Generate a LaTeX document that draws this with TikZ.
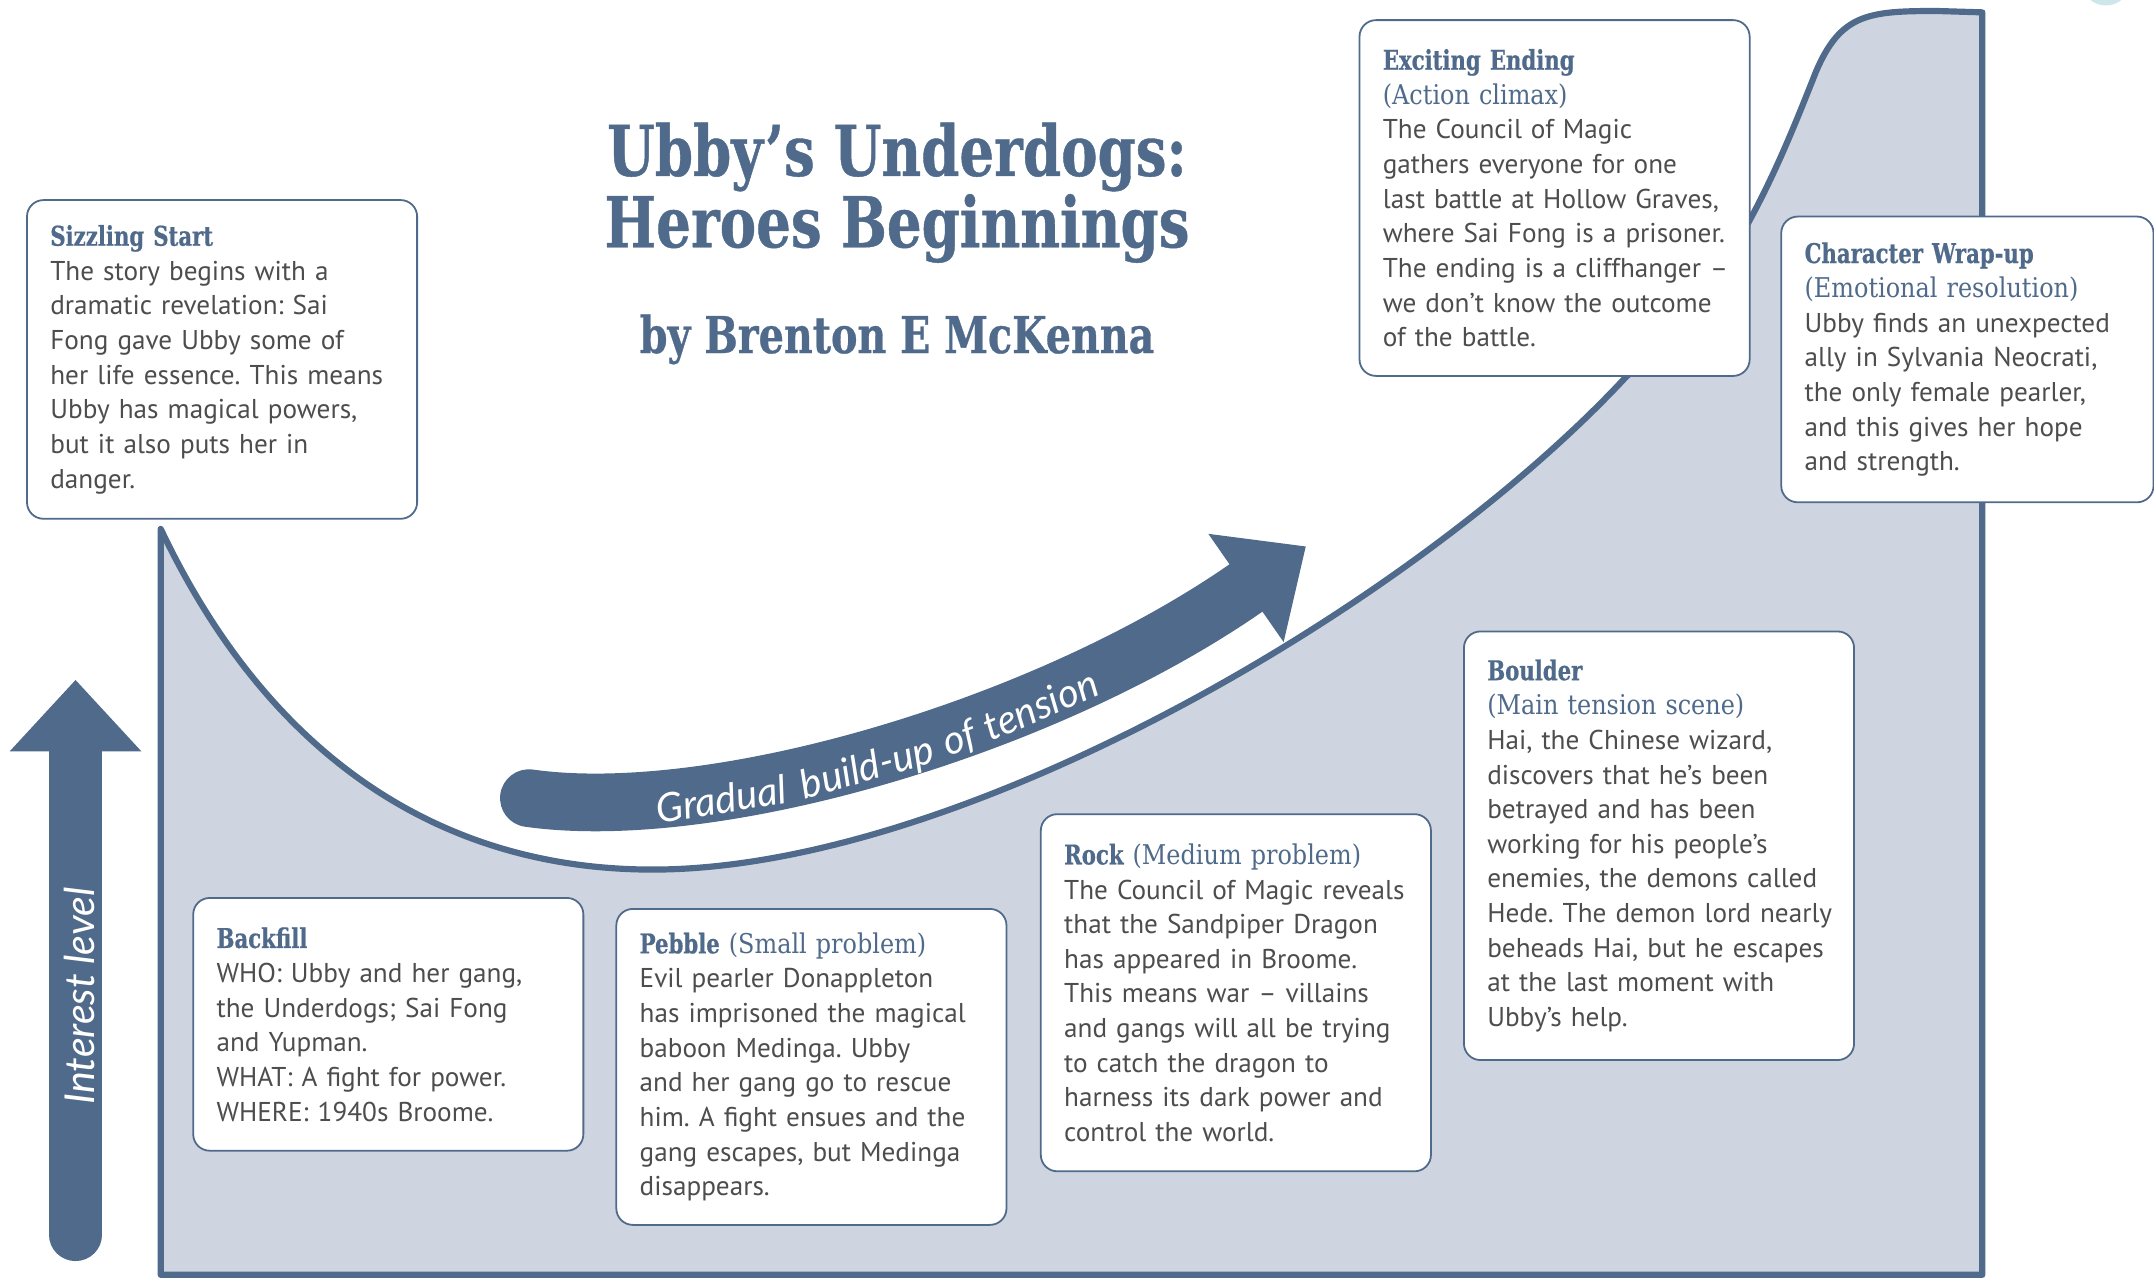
\documentclass[tikz,border=0pt]{standalone}
\usepackage{fontspec}
\setmainfont{PT Sans}
\newfontfamily\slabfont[FakeStretch=0.78,BoldFeatures={FakeBold=0.6}]{DejaVu Serif}
\newfontfamily\slabreg[FakeStretch=0.88]{DejaVu Serif}
\newfontfamily\handfont{Lato}
\frenchspacing
\definecolor{inkblue}{RGB}{79,106,138}
\definecolor{paleblue}{RGB}{207,213,224}
\definecolor{bodygrey}{RGB}{77,77,77}
\definecolor{cyanish}{RGB}{204,230,236}
\newcommand\BoxHead[1]{{\slabfont\bfseries\color{inkblue}#1}}
\newcommand\BoxSub[1]{{\slabreg\color{inkblue}#1}}

\begin{document}
\begin{tikzpicture}[x=1pt,y=-1pt,
  story/.style={draw=inkblue,line width=1.3pt,fill=white,rounded corners=12pt,
    anchor=north west,text width=266pt,inner xsep=9pt,inner ysep=0pt,align=left,
    execute at begin node={\leftskip=8pt},
    text=bodygrey,font=\fontsize{19.8}{25.2}\selectfont},
  titleline/.style={anchor=base,text=inkblue,inner sep=0pt},
  gradword/.style={sloped,anchor=base,inner sep=0pt,text=white,font=\handfont\itshape\fontsize{29}{30}\selectfont},
  curve/.style={draw=inkblue,fill=paleblue,line width=4.5pt,line join=round}]
\useasboundingbox (0,0) rectangle (1568,931);
\clip (0,0) rectangle (1568,931);
\fill[cyanish] (1533,-14) circle (18);
\draw[curve] (117,928) -- (117,385)
  .. controls (200,560) and (330,633) .. (475,633)
  .. controls (700,633) and (1030,440) .. (1184,274)
  .. controls (1260,210) and (1295,120) .. (1322,52)
  .. controls (1340,10) and (1360,8) .. (1410,8)
  -- (1443,9) -- (1443,928) -- cycle;

\coordinate (grstart) at (385,581);
\coordinate (grend) at (907,428);
\coordinate (grtip) at (950.5,397.8);
\draw[inkblue,line width=42pt,line cap=round] (grstart) .. controls (520,600) and (760,530) .. (grend);
\fill[inkblue] (879.6,388.6) -- (grtip) -- (934.4,467.4) -- cycle;
\path (385,597) .. controls (520,616) and (760,546) .. (907,444)
  node[gradword,pos=0.295] (wgradual) {Gradual}
  node[gradword,pos=0.487] (wbuild) {build-up}
  node[gradword,pos=0.605] (wof) {of}
  node[gradword,pos=0.712] (wtension) {tension};

\coordinate (lvlbot) at (55,899);
\coordinate (lvltop) at (55,495);
\draw[inkblue,line width=38pt,line cap=round] (lvlbot) -- (55,547);
\fill[inkblue] (7,547) -- (lvltop) -- (103,547) -- cycle;
\node[rotate=90,text=white,font=\handfont\itshape\fontsize{30}{32}\selectfont] (lvltext) at (58,725) {Interest level};

\node[story,minimum height=232pt] (sizzling) at (19,145) {\BoxHead{Sizzling Start}\\ The story begins with a\\ dramatic revelation: Sai\\ Fong gave Ubby some of\\ her life essence. This means\\ Ubby has magical powers,\\ but it also puts her in\\ danger.};
\node[story,minimum height=259pt] (exciting) at (989,14) {\BoxHead{Exciting Ending}\\ \BoxSub{(Action climax)}\\ The Council of Magic\\ gathers everyone for one\\ last battle at Hollow Graves,\\ where Sai Fong is a prisoner.\\ The ending is a cliffhanger --\\ we don’t know the outcome\\ of the battle.};
\node[story,minimum height=208pt,text width=253pt] (wrapup) at (1296,157) {\BoxHead{Character Wrap-up}\\ \BoxSub{(Emotional resolution)}\\ Ubby finds an unexpected\\ ally in Sylvania Neocrati,\\ the only female pearler,\\ and this gives her hope\\ and strength.};
\node[story,minimum height=184pt] (backfill) at (140,653) {\BoxHead{Backfill}\\ WHO: Ubby and her gang,\\ the Underdogs; Sai Fong\\ and Yupman.\\ WHAT: A fight for power.\\ WHERE: 1940s Broome.};
\node[story,minimum height=230pt] (pebble) at (448,661) {\BoxHead{Pebble} \BoxSub{(Small problem)}\\ Evil pearler Donappleton\\ has imprisoned the magical\\ baboon Medinga. Ubby\\ and her gang go to rescue\\ him. A fight ensues and the\\ gang escapes, but Medinga\\ disappears.};
\node[story,minimum height=260pt] (rock) at (757,592) {\BoxHead{Rock} \BoxSub{(Medium problem)}\\ The Council of Magic reveals\\ that the Sandpiper Dragon\\ has appeared in Broome.\\ This means war -- villains\\ and gangs will all be trying\\ to catch the dragon to\\ harness its dark power and\\ control the world.};
\node[story,minimum height=312pt] (boulder) at (1065,459) {\BoxHead{Boulder}\\ \BoxSub{(Main tension scene)}\\ Hai, the Chinese wizard,\\ discovers that he’s been\\ betrayed and has been\\ working for his people’s\\ enemies, the demons called\\ Hede. The demon lord nearly\\ beheads Hai, but he escapes\\ at the last moment with\\ Ubby’s help.};

\node[titleline,font=\slabfont\bfseries\fontsize{51}{52}\selectfont] (titleA) at (653,128) {Ubby’s Underdogs:};
\node[titleline,font=\slabfont\bfseries\fontsize{51}{52}\selectfont] (titleB) at (653,180) {Heroes Beginnings};
\node[titleline,font=\slabfont\bfseries\fontsize{37}{40}\selectfont] (byline) at (653,257) {by Brenton E McKenna};
\end{tikzpicture}
\end{document}
